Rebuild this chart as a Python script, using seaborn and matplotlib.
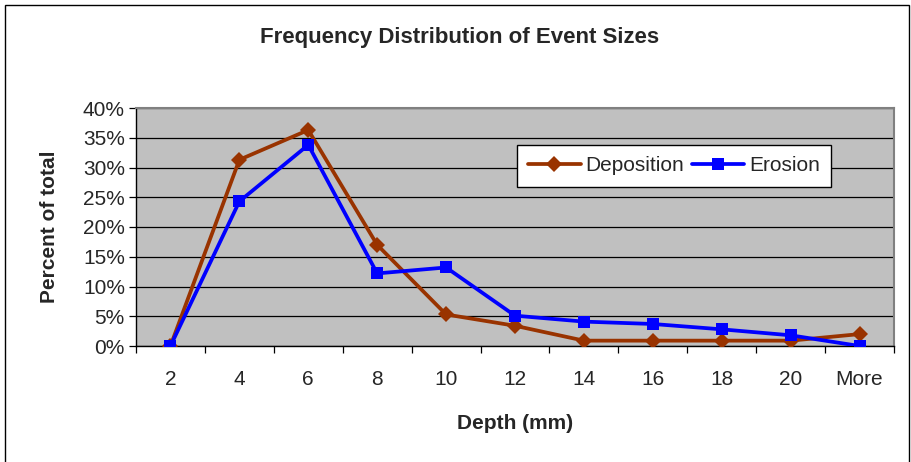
import matplotlib
matplotlib.use("Agg")
import matplotlib.pyplot as plt
import matplotlib.ticker as mticker
from matplotlib.patches import Rectangle
import seaborn as sns
import pandas as pd

categories = ["2", "4", "6", "8", "10", "12", "14", "16", "18", "20", "More"]
deposition = [0.000, 0.313, 0.363, 0.170, 0.053, 0.034, 0.009, 0.009, 0.009, 0.009, 0.020]
erosion = [0.000, 0.243, 0.338, 0.122, 0.132, 0.051, 0.041, 0.037, 0.028, 0.018, 0.000]
series_names = ["Deposition", "Erosion"]
y_ticks = [0.0, 0.05, 0.10, 0.15, 0.20, 0.25, 0.30, 0.35, 0.40]

df = pd.DataFrame({
    "Depth": categories * 2,
    "pos": list(range(len(categories))) * 2,
    "value": deposition + erosion,
    "series": [series_names[0]] * len(categories) + [series_names[1]] * len(categories),
})

sns.set_style("white")
plt.rcParams["font.family"] = ["Liberation Sans", "DejaVu Sans"]

fig = plt.figure(figsize=(9.12, 4.62), dpi=100)
ax = fig.add_axes([136 / 912, 1 - 346 / 462, (894 - 136) / 912, (346 - 108) / 462])
ax.set_facecolor("#C0C0C0")

palette = {"Deposition": "#993300", "Erosion": "#0000FF"}
markers = {"Deposition": "D", "Erosion": "s"}
sns.lineplot(data=df, x="pos", y="value", hue="series", style="series",
             palette=palette, markers=markers, dashes=False, sort=False,
             linewidth=2.7, markersize=8.5, markeredgewidth=0, ax=ax, zorder=3)

ax.set_xlim(-0.5, len(categories) - 0.5)
ax.set_ylim(0, 0.40)
ax.set_yticks(y_ticks)
ax.yaxis.set_major_formatter(mticker.FuncFormatter(lambda v, p: f"{v*100:.0f}%"))
ax.yaxis.grid(True, color="black", linewidth=0.9)
ax.set_axisbelow(True)

ax.set_xticks([i - 0.5 for i in range(len(categories) + 1)])
ax.set_xticklabels([])
ax.set_xticks(list(range(len(categories))), minor=True)
ax.set_xticklabels(categories, minor=True)
ax.tick_params(axis="x", which="major", direction="out", length=5, width=0.9, color="black", bottom=True)
ax.tick_params(axis="x", which="minor", length=0, pad=17, labelsize=15)
ax.tick_params(axis="y", direction="out", length=5, width=0.9, color="black", left=True, labelsize=15, pad=3)

for s in ["left", "bottom"]:
    ax.spines[s].set_color("black")
    ax.spines[s].set_linewidth(1.0)
for s in ["top", "right"]:
    ax.spines[s].set_color("#808080")
    ax.spines[s].set_linewidth(1.5)

ax.set_xlabel("Depth (mm)", fontsize=15, fontweight="bold", labelpad=18)
ax.set_ylabel("Percent of total", fontsize=15, fontweight="bold", labelpad=17)

leg = ax.legend(loc="upper left", bbox_to_anchor=((517 - 136) / 758, (346 - 145) / 238),
                ncol=2, fontsize=15, frameon=True, fancybox=False, framealpha=1,
                edgecolor="black", handlelength=2.5, columnspacing=0.35,
                handletextpad=0.25, borderpad=0.55, borderaxespad=0)
leg.get_frame().set_linewidth(1.0)
leg.set_title(None)

fig.text(460 / 912, 1 - 38 / 462, "Frequency Distribution of Event Sizes",
         ha="center", va="center", fontsize=16, fontweight="bold")

fig.patches.append(Rectangle((5 / 912, -0.1), (909 - 5) / 912, 1.1 - 5 / 462,
                             transform=fig.transFigure, fill=False,
                             edgecolor="black", linewidth=1.0))

fig.savefig("out.png", dpi=100)
